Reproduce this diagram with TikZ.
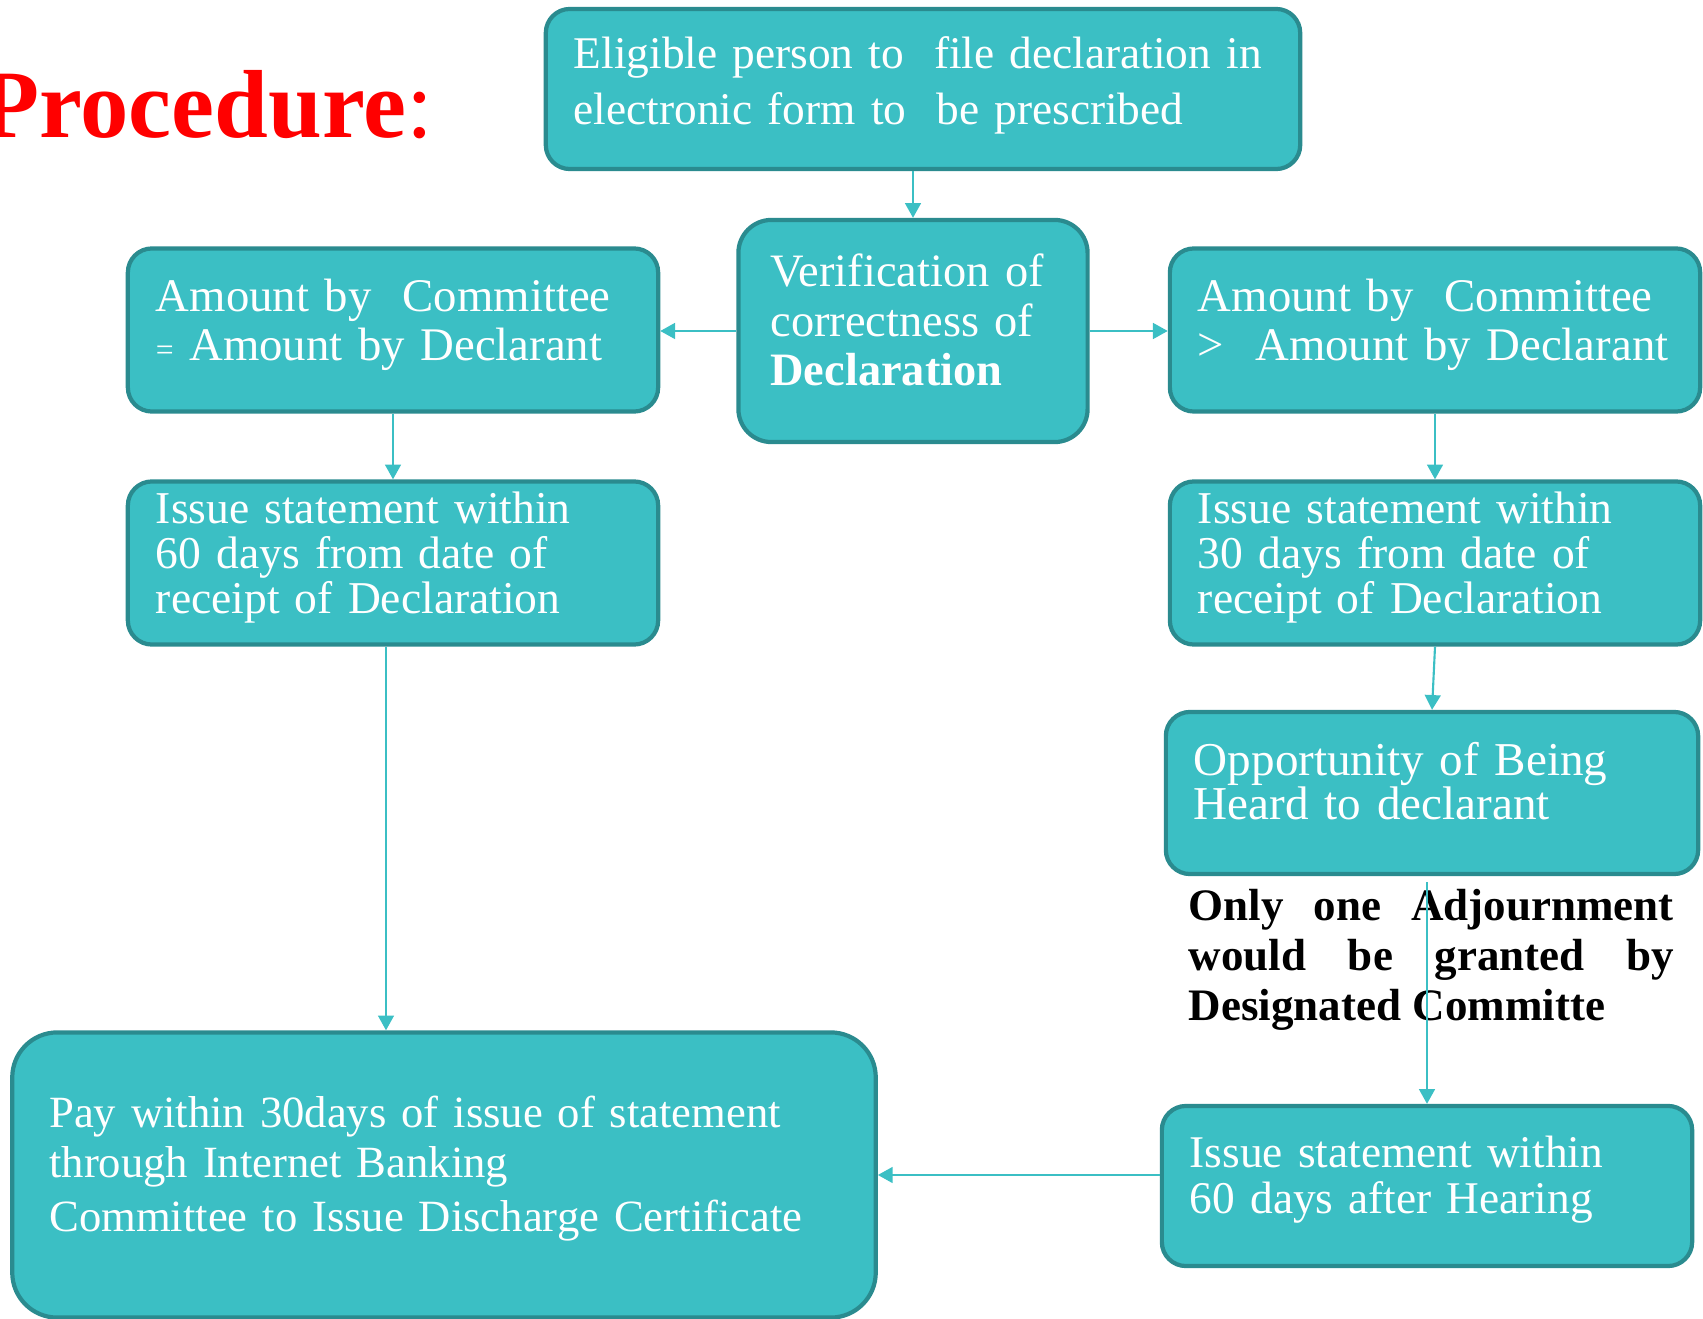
\documentclass[tikz,border=0pt]{standalone}
\usepackage{fontspec}
\setmainfont{Liberation Serif}
\usetikzlibrary{arrows.meta}
\definecolor{tealfill}{HTML}{3BBFC4}
\definecolor{tealedge}{HTML}{2A8B8F}

\begin{document}
\begin{tikzpicture}
[
    x = 0.01cm, y = -0.01cm,
    box/.style = {draw = tealedge, fill = tealfill, line width = 1.2pt, rounded corners = 0.24cm, text = white, align = left, inner xsep = 0.28cm, inner ysep = 0pt},
    lift/.style = {execute at end node = {\endgraf\kern#1}},
    flow/.style = {draw = tealfill, line width = 0.6pt, -{Triangle[length = 4.2pt, width = 4.5pt]}},
    note/.style = {font = \bfseries\fontsize{12.8}{14.2}\selectfont, align = justify, text width = 4.85cm, inner sep = 0pt, anchor = north west}]

\useasboundingbox (0,0) rectangle (1703,1319);

\node [font = \fontsize{27.5}{30}\selectfont, text = red, anchor = base east, inner sep = 0pt] (title) at (434,138) {\textbf{Procedure}:};

\node [box, minimum width = 7.54cm, minimum height = 1.6cm, text width = 6.98cm, font = \fontsize{12.9}{16.1}\selectfont, lift = 2pt] (elig) at (923,89)
    {Eligible person to\ \ file declaration in\\electronic form to\ \ be prescribed};
\node [box, minimum width = 3.49cm, minimum height = 2.22cm, text width = 2.85cm, inner xsep = 0.32cm, rounded corners = 0.33cm, font = \fontsize{13.2}{14}\selectfont, lift = 6.3pt] (verif) at (913,331)
    {Verification of\\correctness of\\\textbf{Declaration}};
\node [box, minimum width = 5.3cm, minimum height = 1.63cm, text width = 4.74cm, font = \fontsize{13.3}{14}\selectfont, lift = 3.1pt] (lamt) at (393,330)
    {Amount by\ \ Committee\\{\fontsize{9}{9}\selectfont =} Amount by Declarant};
\node [box, minimum width = 5.3cm, minimum height = 1.63cm, text width = 4.74cm, font = \fontsize{13.3}{14}\selectfont, lift = 3.1pt] (ramt) at (1435,330)
    {Amount by\ \ Committee\\>\ \ Amount by Declarant};
\node [box, minimum width = 5.3cm, minimum height = 1.63cm, text width = 4.74cm, font = \fontsize{12.95}{12.8}\selectfont, lift = 3.1pt] (liss) at (393,563)
    {Issue statement within\\60 days from date of\\receipt of Declaration};
\node [box, minimum width = 5.3cm, minimum height = 1.63cm, text width = 4.74cm, font = \fontsize{12.95}{12.8}\selectfont, lift = 3.1pt] (riss) at (1435,563)
    {Issue statement within\\30 days from date of\\receipt of Declaration};
\node [box, minimum width = 5.32cm, minimum height = 1.62cm, text width = 4.76cm, font = \fontsize{13.4}{12.7}\selectfont, lift = 6.8pt] (opp) at (1432,793)
    {Opportunity of Being\\Heard to declarant};
\node [note] (adjourn) at (1188,889)
    {\tolerance=9999 Only one Adjournment would be granted by \mbox{Designated} \mbox{Committe}};
\node [box, minimum width = 5.3cm, minimum height = 1.6cm, text width = 4.74cm, font = \fontsize{12.9}{13}\selectfont, lift = 3.7pt] (hear) at (1427,1186)
    {Issue statement within\\60 days after Hearing};
\node [box, minimum width = 8.63cm, minimum height = 2.85cm, text width = 7.89cm, inner xsep = 0.37cm, rounded corners = 0.45cm, font = \fontsize{12.7}{14.2}\selectfont, lift = 3.7pt] (pay) at (444,1175)
    {Pay within 30days of issue of statement\\through Internet Banking\\[1.1pt]Committee to Issue Discharge Certificate};

\draw [flow] (elig.south -| verif.north) -- (verif.north);
\draw [flow] (verif.west) -- (verif.west -| lamt.east);
\draw [flow] (verif.east) -- (verif.east -| ramt.west);
\draw [flow] (lamt.south) -- (liss.north);
\draw [flow] (ramt.south) -- (riss.north);
\draw [flow] ([xshift = -0.07cm]liss.south) -- ([xshift = -0.07cm]liss.south |- pay.north);
\draw [flow] (riss.south) -- (opp.north);
\draw [flow] ([yshift = -0.06cm]opp.south -| hear.north) -- (hear.north);
\draw [flow] (hear.west |- pay.east) -- (pay.east);

\end{tikzpicture}
\end{document}
